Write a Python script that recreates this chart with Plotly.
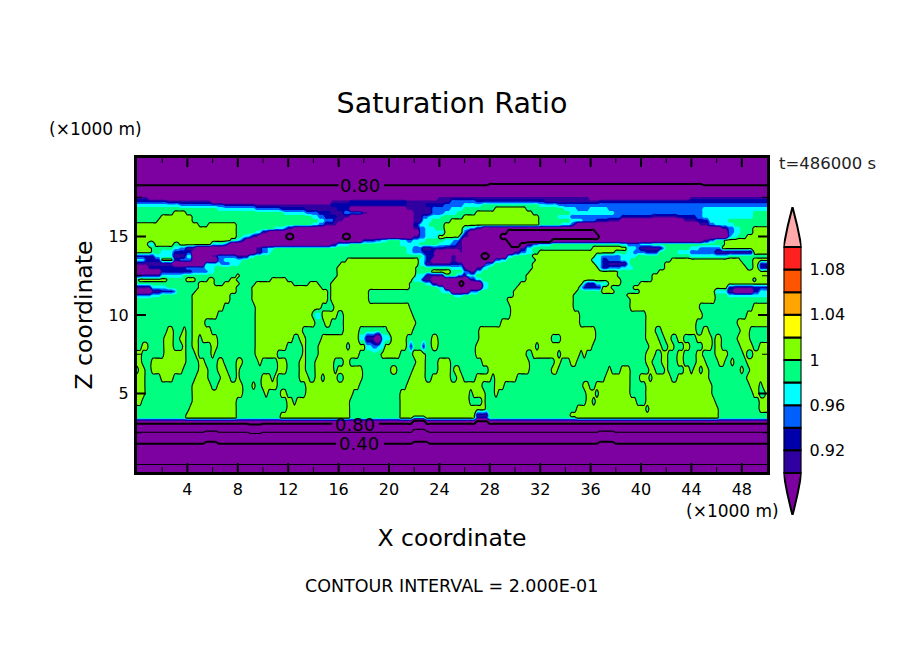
import numpy as np
import plotly.graph_objects as go

# saturation ratio: each token is band + x (km) where it ends
band_values = {"t": 0.15, "s": 0.3, "x": 0.45, "r": 0.5, "w": 0.65, "q": 0.7, "u": 0.75, "p": 0.85,
               "I": 0.91, "N": 0.93, "B": 0.95, "C": 0.97, "G": 0.99, "L": 1.01}

z_levels = [20, 18.6, 18.1, 17.6, 17.5, 17.25, 17, 16.75, 16.5, 16.25, 16, 15.75, 15.5, 15.25, 15, 14.75,
            14.5, 14.25, 14, 13.75, 13.5, 13.25, 13, 12.75, 12.5, 12.25, 12, 11.75, 11.5, 11.25, 11, 10.5,
            10, 9.5, 9, 8.5, 8, 7.5, 7, 6.5, 6, 5.5, 5, 4.5, 4, 3.6, 3.45, 3.15, 2.9, 2.16, 1.44, 0]

band_rows = [
    "q50",
    "q28 u45 q50",
    "p50",
    "p50",
    "I1 p24 I36 p44 I50",
    "N2.5 I6 p15.5 I17 N21.5 I25 B27 N32.5 I36.7 N50",
    "C3.5 B7 N9.5 I15.5 N21.5 I23 N24.5 B26 C27.5 G32 C33.5 B50",
    "G6.5 C9.5 B11.5 N13.5 I16 N17 p21.5 I23.5 B25 C26 G28.3 L31 G34 C35 B36 C37.5 B45 C50",
    "G2.8 L4 G11.7 C13.5 B14.5 N15.5 I16.5 B18 I18.5 p22 I23.5 B24.5 C25.5 G27 L31.4 G34.5 C37.8 B45 C49 G50",
    "G1.9 L4.3 G13.8 C14.5 B15 N16 I16.8 p21.9 I22.6 B23.2 C24.2 G25.9 L31.8 G33.5 C34.5 B38.5 N41 I43 N44.5 B45 C49 G50",
    "G1.6 L4.5 G14.3 C15 B15.6 I16.5 p21.9 I22.6 C23.5 G24.8 L25.6 G25.7 L32 G34.5 C35.5 B36.5 N37.5 I38.3 p43.5 I44.5 N45.5 C47 G50",
    "L5 G5.6 L8 G13.8 C14.3 B15 I15.8 p22 N22.5 C23.2 G24.3 L32 G33.7 C34.3 B34.7 I35 p44.6 I45.5 B46 C47.5 G50",
    "L8 G11 C11.6 B12 I12.5 p22 I22.5 B23 C23.6 G24.4 L26 C26.5 B27 I27.3 p46.5 I47 B47.5 C48 G49 L50",
    "L8 G9.4 C9.8 B10 I10.3 p22.3 B22.8 C24.3 L25.8 B26.2 I26.5 p29.3 q36.5 p46.8 B47.3 C47.8 G49 L50",
    "L8 G8.5 C8.8 B9.2 I9.6 p11.8 q12.4 p16.5 q17 p22 I22.5 B23 C24 L25.6 B26 I26.3 p29 q36.7 p46.8 B47.2 C47.6 G48.5 L50",
    "L7.5 G8 C8.2 B8.5 I8.7 p18 N19 B19.5 C20 G21 C21.5 B22 C23 G24.5 C25.2 B25.6 I26 p29.5 q33 p45 I45.5 B46 G46.7 L50",
    "L1 C1.4 L3 G3.5 L4.9 G5 L6 C6.8 B7.1 I7.5 p15.5 I16 C17 G21 C22.5 G24 C24.8 B25.5 I25.9 p29.6 q30.4 p31 I31.5 B32 C33 G38.5 C39 B40 C41 G46.6 L50",
    "L1.2 G3 C3.5 B4 I4.6 p9.5 I10 B10.5 C11 G21.3 C22 B22.6 I23.3 N24.5 I26 p30.5 I31 C31.5 G36.2 L39 C39.6 B40 I41.6 B42 G44 C44.6 B46.5 L50",
    "L1.1 G2 C3 N4.5 p9.5 I10 B10.3 C10.6 G21.3 C22 B22.6 N23.6 p25.6 I26 p30 I30.5 B31 C31.5 G32 L38 G38.8 C39.4 B40.5 N41.5 G43 C44 B46 I49 L50",
    "N1.5 C3 I4 C4.5 p6 I6.5 B8 I9 C9.5 G22.7 C23 N23.6 p25 I25.5 p27.4 q28 p29.3 C29.8 G31.4 L36.3 C37 B38.5 C39.6 G44 C47 G50",
    "C0.7 N2 L2.8 N3.5 B4.5 p6.5 B7 C8.5 G16.7 L22.3 C22.8 N23.5 p25 I25.5 p28.5 B29 C29.5 G31.7 L36.2 C36.9 N37.3 B38.5 C39.2 G42.5 L48 G49 L50",
    "I3 p5.5 C6.6 B7.5 C8.2 G16.2 L22.4 C23 I24.8 N26 p27.7 B28.2 C28.5 G31.5 L36.4 C36.8 N37.3 I38.8 C39.2 G42 L48.2 G48.8 L49.4 N50",
    "p0.8 N4 B5.5 C6.2 G16 L22.2 G24.8 C26 I26.2 p27 I27.5 C28 G31.3 L36.6 C36.9 N37.5 B38.5 C39.5 G41.8 L48.3 G48.8 L49.3 N50",
    "p2 N4.3 B5.6 C6.2 G15.9 L22.2 G23.5 L25 G26 B26.4 I26.8 N27 C27.5 G31.2 L38.2 G41.4 L50",
    "N2 C3.7 G7.8 L8.1 G15.8 L22.1 C22.8 I24.5 G25.3 B25.9 I26.2 C26.8 G31 L38.2 G41 L50",
    "G0.2 L2.3 G4 L4.6 G5.7 L6.1 G7.5 L8 G10.6 L12 G15.6 L21.9 C22.7 I23.3 p26.4 N27 C27.5 G30.8 L38.3 G40.8 L48.8 G49.2 L50",
    "G4.9 L6.1 G6.9 L8.1 G9.4 L12.5 G13.6 L14.4 G15.5 L21.7 G23 C23.5 I24 p25.6 q25.9 p27.3 C27.8 G30.4 L35.3 C35.6 N36.5 C37.4 L38.5 G40 L50",
    "I1.2 C2.5 G4.8 L7.9 G9.2 L14.7 G15.4 L21.6 G24 C24.4 p27.5 C28 G30.2 L35.2 C35.5 N37 L37.6 G39.3 L47 N47.3 I49 N50",
    "p1.2 I2 N2.8 B3.2 G4.7 L7.8 G9.2 L15.2 G15.3 L18.3 G24.2 C25 p26.5 B27.2 G30 L34.8 G36.9 L38 G39.9 L46 C47 I47.5 p49 N49.5 C50",
    "B1.2 C2 G4.5 L7.5 G9.2 L15.1 G15.4 L18.4 G25.2 C26 G30 L34.7 G39 L46 G47 C50",
    "G4.4 L7.4 G9.2 L15.1 G15.5 L18.5 G29.5 L34.7 G39.1 L46 G50",
    "G4.3 L6.9 G9.4 L14.7 G15.6 L21.6 G29.6 L34.6 G39.1 L44.6 G48.9 L50",
    "G4.3 L6.3 G9.4 L14 G14.2 C14.6 L15.9 G16.4 L22 G29.6 L35.2 G40.4 L44.9 G48.5 L50",
    "G4.3 L5.5 G9.3 L14.1 G15 L15.5 G16.3 L22.2 G28.8 L35.2 G40.4 L44.4 G47.7 L50",
    "G2.4 L2.8 G3.6 L3.9 G4.3 L6 G9.3 L13.2 G16.4 L17.7 G20 L22 G27.2 L36.5 G40.4 L41.2 G41.6 L44.4 G45 L45.3 G47.8 L48.7 G50",
    "G2.2 L3 G3.5 L4 G4.3 L4.8 G5.2 L6.4 G9.3 L12.5 G13 L13.4 G14.6 L17.6 C18.2 I18.8 p19.5 C20.2 L21.4 G23.3 L23.8 G27.1 L33 G33.7 L36.5 G40.4 L41.3 G42 L42.4 G43 L43.3 G44.4 L45.7 G46 L46.3 G47.7 L48.6 G50",
    "G0.3 L0.8 G2.2 L3 G3.6 L4 G4.5 L5 G5.8 L6.4 G9.4 L12 G13.2 L13.5 G14.3 L16.7 G16.8 L18.1 C18.6 B19.2 C19.6 L21.3 G21.6 N22 G22.7 N23 G23.3 L23.8 G27 L31.7 G32 L33.8 G34 L35.3 G35.5 L36.2 G40.7 L41.7 G42.2 L42.7 G43.3 L43.8 G44.9 L45.7 G46 L46.5 G48 L48.8 G49.4 L50",
    "L0.5 G2.2 L3.9 G4.6 L5 G5.8 L6.2 G9.4 L11.1 G13.2 L13.5 G14.4 L16.8 G17 L17.7 G19.4 L21 G22 L22.8 G27 L31 G31.4 L33.3 G33.7 L35.1 G35.4 L35.6 G40.4 L41.2 G41.7 L42.1 G43 L43.4 G44.4 L44.8 G46 L46.8 G48.2 L48.5 G48.9 L50",
    "L0.5 G1.2 L3.9 G4.9 L5.5 G6.5 L7 G7.9 L8.3 G9.7 L10 G11.2 L11.9 G13 L13.4 G14.1 L15.6 G16.4 L16.8 G18.8 L19 G22.2 L22.8 G23.9 L25 G27.5 L31.2 G33.2 L33.6 G34.4 L34.8 G40.5 L41 G41.7 L42.1 G43 L43.3 G44.5 L45.1 G46.2 L46.7 G47.2 L47.5 G48.4 L50",
    "G0.1 L0.6 G1.2 L3.6 G4.9 L5.7 G6.5 L7.1 G7.8 L8.2 G11.2 L12 G13 L13.4 G14.2 L15.6 G16 L17.9 G20.1 L20.6 G22 L22.8 G23.8 L24.8 G25.2 L25.6 G28 L31.2 G33 L33.5 G34.8 L35 G37.3 L37.6 G38.3 L39.1 G39.8 L40 G40.7 L41.2 G42 L42.2 G43.5 L43.8 G44.1 L44.6 G45 L45.3 G47.3 L47.5 G47.9 L48.2 G48.6 L50",
    "L0.6 G2 L3 G4.7 L5.6 G6.6 L7.4 G7.8 L8.2 G9.9 L10.7 G10.9 L11.1 G12.9 L13.7 G14.2 L14.6 G15 L15.9 G16.4 L17.9 G21.7 L23 G23.4 L24.9 G25.5 L26 G26.8 L28.1 G28.3 L30.1 G37.2 L39.1 G40 L40.7 G41 L42.5 G42.8 L45.4 G48.5 L50",
    "L0.65 G4.5 L5.9 G6.5 L8.4 G9.2 L9.4 G9.9 L11.1 G13.4 L14.8 G15 L17.7 G21.3 L27.5 G28.3 L29.1 G35.5 L35.8 G36.5 L39.1 G40.5 L45.7 G48.7 L49.3 G49.7 L50",
    "L0.6 G4.4 L8.4 G10.2 L10.5 G11.5 L11.9 G13.5 L17.2 G21 L26.5 G26.7 L27.7 G28.3 L28.7 G35.7 L36.5 G36.7 L39.1 G40.4 L45.7 G49 L49.3 G49.8 L50",
    "L0.4 G4.3 L7.9 G11.8 L12.3 G12.7 L16.9 G21 L26.5 G27.3 L27.7 G35.7 L36.2 G36.5 L39.6 G40.5 L45.8 G49.4 L50",
    "G4.1 L7.9 G11.9 L16.8 G21 L26.3 G26.5 L27.6 G34.9 L40.4 G40.7 L46.1 G49.5 L50",
    "G4 L7.8 G11.5 L16.9 G20.9 L26.9 I27.8 G34.4 L46.2 G50",
    "G4 L7.8 G11.5 L16.9 G20.9 L22 C22.8 L26.9 N27.8 G34.9 L46.2 G50",
    "p21.8 q23 p27 u27.8 p50",
    "q9 u10 q22 w23 q50",
    "r5.5 x6.5 r22 x23.2 r36.7 x38 r50",
    "s50",
    "t50",
]

# axis ticks
x_major = list(range(4, 49, 4))
x_minor = list(range(2, 50, 4))
z_major = [5, 10, 15]
z_minor = [2.5, 7.5, 12.5, 17.5]

# colour bar
cb_levels = [0.9, 0.92, 0.94, 0.96, 0.98, 1.0, 1.02, 1.04, 1.06, 1.08, 1.1]
cb_tickvals = [0.92, 0.96, 1.0, 1.04, 1.08]
cb_ticktext = ["0.92", "0.96", "1", "1.04", "1.08"]
band_colors = ["#7d00a0", "#3000a0", "#0000aa", "#0060ff", "#00ffff", "#00ff80",
               "#80ff00", "#ffff00", "#ffa500", "#ff5500", "#ff2020", "#ffaaaa"]

W, H = 904, 654
x_nodes = np.arange(0, 50.01, 0.25)


def expand_row(row):
    vals = []
    tokens = [(t[0], float(t[1:])) for t in row.split()]
    for x in x_nodes:
        for band, end in tokens:
            if x < end or end >= 50:
                vals.append(band_values[band])
                break
    return vals


z_grid = np.array([expand_row(r) for r in band_rows[::-1]])
z_axis = z_levels[::-1]

colorscale = [[i / (len(band_colors) - 1), c] for i, c in enumerate(band_colors)]

fig = go.Figure()
fig.add_trace(go.Contour(x=x_nodes, y=z_axis, z=z_grid, showscale=False, colorscale=colorscale,
                         autocontour=False,
                         contours=dict(start=0.9, end=1.1, size=0.02, coloring="fill", showlines=False),
                         line=dict(width=0), hoverinfo="skip"))
# thin lines at 0.2, 0.6, 1.0 and thick ones at 0.4, 0.8
fig.add_trace(go.Contour(x=x_nodes, y=z_axis, z=z_grid, showscale=False, autocontour=False,
                         contours=dict(start=0.2, end=1.0, size=0.4, coloring="none"),
                         line=dict(color="black", width=1.1), hoverinfo="skip"))
fig.add_trace(go.Contour(x=x_nodes, y=z_axis, z=z_grid, showscale=False, autocontour=False,
                         contours=dict(start=0.4, end=0.8, size=0.4, coloring="none"),
                         line=dict(color="black", width=2), hoverinfo="skip"))
fig.add_trace(go.Bar(x=[0] * (len(cb_levels) - 1), y=np.diff(cb_levels), base=cb_levels[:-1], width=1,
                     marker=dict(color=band_colors[1:-1], line=dict(color="black", width=2)),
                     xaxis="x2", yaxis="y2", hoverinfo="skip", showlegend=False))

font = "DejaVu Sans"
axis_style = dict(showline=True, linecolor="black", linewidth=3, mirror=True, showgrid=False,
                  zeroline=False, ticks="", tickfont=dict(family=font, size=16, color="black"))

fig.update_layout(
    width=W, height=H, margin=dict(l=0, r=0, t=0, b=0),
    paper_bgcolor="white", plot_bgcolor="white", showlegend=False,
    title=dict(text="Saturation Ratio", x=452 / W, xanchor="center", y=1 - 103 / H, yanchor="middle",
               font=dict(family=font, size=28.5, color="black")),
    xaxis=dict(domain=[137 / W, 767 / W], range=[0, 50], tickmode="array", tickvals=x_major,
               ticklabelstandoff=1,
               title=dict(text="X coordinate", standoff=32, font=dict(family=font, size=23.5, color="black")),
               **axis_style),
    yaxis=dict(domain=[1 - 472 / H, 1 - 158 / H], range=[0, 20], tickmode="array", tickvals=z_major,
               ticklabelstandoff=2,
               title=dict(text="Z coordinate", standoff=10, font=dict(family=font, size=23.5, color="black")),
               **axis_style),
    xaxis2=dict(domain=[783.5 / W, 801.5 / W], range=[-0.5, 0.5], anchor="y2", visible=False),
    yaxis2=dict(domain=[1 - 515 / H, 1 - 207 / H], range=[0.8628, 1.1354], anchor="x2", side="right",
                showgrid=False, zeroline=False, showline=False, ticks="", tickmode="array",
                tickvals=cb_tickvals, ticktext=cb_ticktext, ticklabelstandoff=7,
                tickfont=dict(family=font, size=16, color="black")),
)

# inward ticks on all four sides, contour layers hide the axis ones
plot_w, plot_h = 630, 314
for vals, length, width in [(x_major, 9, 2), (x_minor, 5, 1)]:
    for v in vals:
        for y0, y1 in [(0, length / plot_h), (1, 1 - length / plot_h)]:
            fig.add_shape(type="line", xref="x", yref="y domain", x0=v, x1=v, y0=y0, y1=y1, layer="above",
                          line=dict(color="black", width=width))
for vals, length, width in [(z_major, 9, 2), (z_minor, 5, 1)]:
    for v in vals:
        for x0, x1 in [(0, length / plot_w), (1, 1 - length / plot_w)]:
            fig.add_shape(type="line", xref="x domain", yref="y", x0=x0, x1=x1, y0=v, y1=v, layer="above",
                          line=dict(color="black", width=width))

# colour bar end arrows
fig.add_shape(type="path", xref="x2", yref="y2", layer="above", fillcolor=band_colors[-1],
              line=dict(color="black", width=2),
              path="M -0.5 1.1 Q -0.3 1.118 0 1.1354 Q 0.3 1.118 0.5 1.1 Z")
fig.add_shape(type="path", xref="x2", yref="y2", layer="above", fillcolor=band_colors[0],
              line=dict(color="black", width=2),
              path="M -0.5 0.9 Q -0.3 0.88 0 0.8628 Q 0.3 0.88 0.5 0.9 Z")


def label(text, x, y, size, xanchor="center", color="black"):
    fig.add_annotation(text=text, x=x / W, y=1 - y / H, xref="paper", yref="paper", showarrow=False,
                       xanchor=xanchor, yanchor="middle", font=dict(family=font, size=size, color=color))


label("(×1000 m)", 95, 129, 17)
label("(×1000 m)", 732, 511, 17)
label("t=486000 s", 777, 163, 16.5, xanchor="left", color="#222222")
label("CONTOUR INTERVAL = 2.000E-01", 451, 586, 17.5)

# contour labels sit in a gap of the line
for text, x, z, x0, x1 in [("0.80", 17.7, 18.28, 16, 19.6), ("0.80", 17.3, 3.03, 15.5, 19.2),
                           ("0.40", 17.6, 1.8, 15.8, 19.6)]:
    fig.add_shape(type="rect", xref="x", yref="y", x0=x0, x1=x1, y0=z - 0.22, y1=z + 0.22, layer="above",
                  fillcolor=band_colors[0], line=dict(width=0))
    fig.add_annotation(text=text, x=x, y=z, xref="x", yref="y", showarrow=False,
                       font=dict(family=font, size=18, color="black"))

fig.write_html("out.html", post_script="document.body.style.margin='0';",
               config=dict(displayModeBar=False))
